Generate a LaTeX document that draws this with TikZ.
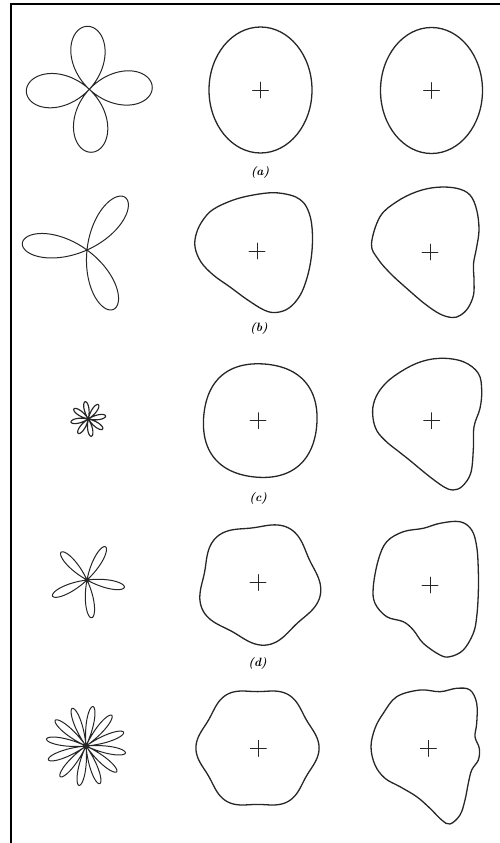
\documentclass[tikz,border=0pt]{standalone}
\begin{document}
\begin{tikzpicture}[x=1pt,y=-1pt,line join=round,line cap=round,
  outline/.style={line width=1.3pt,black!85},
  rose/.style={line width=1.0pt,black!85},
  frameline/.style={line width=2.3pt,line cap=butt},
  crossmark/.style={line width=0.9pt,black!85},
  lbl/.style={font=\fontsize{12}{14}\selectfont\bfseries\itshape,inner sep=0pt}]
\useasboundingbox (0,0) rectangle (500,843);
% frame
\coordinate (fbl) at (11.3,843);
\coordinate (ftr) at (500,4.3);
\draw[frameline] (fbl) -- (11.3,3.15) (10.15,4.3) -- (ftr);

% centres
\coordinate (ra) at (89.3,89.3);
\coordinate (rb) at (87,250);
\coordinate (rc) at (88.3,419);
\coordinate (rd) at (87,580);
\coordinate (re) at (86,746);
\coordinate (ma) at (260.5,90);
\coordinate (mb) at (257,251);
\coordinate (mc) at (258,420.7);
\coordinate (md) at (258,582.5);
\coordinate (me) at (258.3,748.3);
\coordinate (qa) at (431.5,90.5);
\coordinate (qb) at (430,252);
\coordinate (qc) at (431.7,420.7);
\coordinate (qd) at (430,585);
\coordinate (qe) at (428.3,748.3);

% roses
\begin{scope}[shift={(ra)},yscale=-1]
\draw[rose] plot[domain=0:360,samples=300] ({\x}:{63*cos(2*(\x-2))});
\end{scope}
\begin{scope}[shift={(rb)},yscale=-1]
\draw[rose] plot[domain=0:180,samples=300] ({\x}:{65*cos(3*(\x-54))});
\end{scope}
\begin{scope}[shift={(rc)},yscale=-1]
\draw[rose,line width=1.15pt] plot[domain=0:360,samples=400] ({\x}:{17.5*cos(4*(\x-10))});
\end{scope}
\begin{scope}[shift={(rd)},yscale=-1]
\draw[rose] plot[domain=0:180,samples=400] ({\x}:{38*cos(5*(\x-61))});
\end{scope}
\begin{scope}[shift={(re)},yscale=-1]
\draw[rose] plot[domain=0:360,samples=600] ({\x}:{40*cos(6*(\x-20))});
\end{scope}

% middle column
\draw[outline] (ma) ellipse [x radius=51.5, y radius=63];
\draw[outline] plot[smooth cycle,tension=0.6] coordinates {
(213.3,209.3) (233.3,200) (253.3,195) (273.3,192.7) (290,195) (300,199.5)
(306.5,207) (311,220) (312.5,238) (311.2,258) (307,278) (300,295.5) (289,308)
(276,312.5) (264,310) (247,299.5) (230,287) (213.3,275) (201,262)
(195,247) (196.5,233) (203,220)};
\begin{scope}[shift={(259.5,420.3)},yscale=-1]
\draw[outline] plot[smooth cycle,domain=0:355,samples=72] ({\x}:{58+1.3*cos(4*(\x-40))+0.8*cos(\x+20)});
\end{scope}
\begin{scope}[shift={(259,583)},yscale=-1]
\draw[outline] plot[smooth cycle,domain=0:355,samples=72] ({\x}:{59+3.5*cos(5*(\x-61))});
\end{scope}
\begin{scope}[shift={(257.5,748)},yscale=-1]
\draw[outline] plot[smooth cycle,domain=0:357.5,samples=144] ({\x}:{59+2.6*cos(6*\x)});
\end{scope}

% right column
\draw[outline] (qa) ellipse [x radius=51, y radius=63];
\draw[outline] plot[smooth cycle,tension=0.6] coordinates {
(371.5,244) (380,216.7) (396.7,201.7) (416.7,191.7) (436.7,187.3) (456.7,188.3)
(470,195) (476.7,210) (479,230) (476.5,248) (473.5,264) (474,280)
(473.5,295) (468,308) (460,315.5) (452,317.5) (440,314) (425,304)
(408,289.5) (391,274) (378,259)};
\draw[outline] plot[smooth cycle,tension=0.6] coordinates {
(380,390) (393.3,376.7) (416.7,363.3) (440,358.3) (463.3,361.7)
(478.3,373.3) (481.7,390) (480,408.3) (474,426.7) (473.3,450) (470.7,473.3)
(462,486.5) (453,490) (445,487.5) (434,480) (422,470.5) (410,460.5)
(398,451) (386.7,442) (377,431) (373,418) (373.5,404)};
\draw[outline] plot[smooth cycle,tension=0.6] coordinates {
(386.7,541.7) (403.3,531.7) (423.3,528.3) (440,523.3) (460,521.7) (471.7,530)
(476.7,546.7) (478.3,570) (478.3,593.3) (476.7,616.7) (473.3,633.3) (463.3,650)
(450,656.7) (440,655) (423.3,643.3) (413.3,630) (403.3,621.7) (386.7,616.7)
(375,603.3) (373.3,586.7) (378.3,560)};
\draw[outline] plot[smooth cycle,tension=0.6] coordinates {
(396.7,696.7) (420,690) (440,691.7) (456.7,688.3) (470,690) (476.7,703.3)
(476.7,723.3) (475,736.7) (479.3,748.3) (478.3,760) (471.7,770) (468.3,783.3)
(465,800) (460,815) (450,824) (441.7,820) (430,808.3) (416.7,796.7)
(400,786.7) (385,778.3) (375,765) (371,746.7) (375,728.3) (383.3,713.3)};

% plus marks
\foreach \c in {ma,mb,mc,md,me,qa,qb,qc,qd,qe}{
  \draw[crossmark] ([xshift=-8pt]\c) -- ([xshift=8pt]\c) ([yshift=-8pt]\c) -- ([yshift=8pt]\c);
}

% labels
\node[lbl] (la) at (260,172.7) {(a)};
\node[lbl] (lb) at (259,328) {(b)};
\node[lbl] (lc) at (258.3,498) {(c)};
\node[lbl] (ld) at (257.7,663.3) {(d)};
\end{tikzpicture}
\end{document}
